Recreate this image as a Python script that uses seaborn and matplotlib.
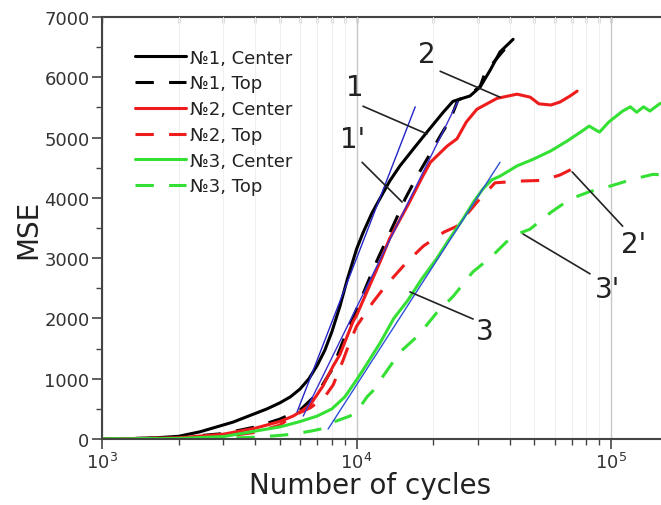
import matplotlib
matplotlib.use("Agg")
import matplotlib.pyplot as plt
import numpy as np
import pandas as pd
import seaborn as sns
from matplotlib.ticker import LogLocator, MultipleLocator, NullFormatter

# --- measured MSE vs number of cycles -------------------------------------
n1_center_x = [1000, 1500, 2000, 2430, 3270, 4450, 5000, 5500, 6000, 6500, 7000,
               7500, 8000, 8600, 9200, 10000, 10600, 11500, 12400, 13500, 14800,
               17000, 18900, 21900, 23900, 26000, 27900, 30600, 33500, 36600, 41200]
n1_center_y = [0, 10, 45, 120, 280, 500, 600, 700, 830, 1000, 1220,
               1470, 1780, 2200, 2650, 3150, 3420, 3750, 4000, 4280, 4530,
               4850, 5090, 5420, 5600, 5650, 5690, 5840, 6120, 6420, 6630]

n1_top_x = [1000, 2000, 3000, 4000, 5000, 6000, 7000, 8000, 9000, 10000, 12000,
            14500, 15500, 17400, 18900, 21300, 23400, 25000, 28000, 30600, 32000,
            37000, 41000]
n1_top_y = [0, 25, 90, 200, 330, 480, 750, 1150, 1700, 2150, 2950,
            3700, 3980, 4380, 4640, 5025, 5310, 5620, 5720, 5850, 6080,
            6400, 6620]

n2_center_x = [1000, 2000, 3000, 4000, 5000, 5630, 6000, 6560, 7380, 8090, 8600,
               9690, 10000, 12400, 13500, 16000, 18200, 19500, 22700, 24800, 27000,
               29700, 33500, 35600, 42700, 48100, 52000, 58000, 63000, 69000, 73500]
n2_center_y = [0, 20, 80, 180, 290, 380, 450, 560, 880, 1210, 1400,
               1950, 2050, 2950, 3330, 3900, 4360, 4590, 4860, 4980, 5260,
               5470, 5590, 5650, 5720, 5670, 5560, 5540, 5590, 5690, 5770]

n2_top_x = [1000, 2000, 3000, 4000, 5000, 5600, 6600, 7500, 8100, 8800, 9400,
            10000, 11600, 13000, 15800, 18300, 22000, 24800, 30000, 35000, 45000,
            54000, 63000, 72000]
n2_top_y = [0, 10, 40, 110, 230, 380, 520, 700, 900, 1280, 1600,
            1870, 2270, 2540, 2940, 3200, 3430, 3530, 3950, 4250, 4280,
            4290, 4380, 4500]

n3_center_x = [1000, 2000, 3000, 4450, 5000, 6000, 7000, 8000, 9000, 10000, 11000,
               12400, 14000, 15900, 18000, 20700, 23000, 26200, 29000, 31400, 34000,
               36600, 42700, 49400, 58000, 67000, 77000, 82000, 90000, 98000, 105000,
               111000, 119000, 126000, 134000, 142000, 155000, 160000]
n3_center_y = [0, 10, 40, 165, 200, 290, 380, 500, 700, 980, 1250,
               1600, 2000, 2300, 2650, 3000, 3300, 3650, 3950, 4150, 4300,
               4360, 4530, 4640, 4780, 4940, 5110, 5190, 5090, 5260, 5360,
               5440, 5510, 5420, 5510, 5440, 5560, 5580]

n3_top_x = [1000, 3000, 4000, 5000, 5600, 6600, 7500, 8100, 9400, 10000, 11000,
            11600, 12700, 14800, 17400, 20700, 24000, 28600, 34000, 41000, 48000,
            58000, 69000, 82000, 100000, 122000, 146000, 160000]
n3_top_y = [0, 10, 30, 60, 80, 130, 180, 280, 380, 450, 700,
            800, 1040, 1440, 1710, 2100, 2370, 2770, 3030, 3370, 3480,
            3760, 3980, 4100, 4200, 4310, 4390, 4380]

series_names = ["№1, Center", "№1, Top", "№2, Center", "№2, Top", "№3, Center", "№3, Top"]
series_x = [n1_center_x, n1_top_x, n2_center_x, n2_top_x, n3_center_x, n3_top_x]
series_y = [n1_center_y, n1_top_y, n2_center_y, n2_top_y, n3_center_y, n3_top_y]

# linear fits of the steep part (straight in log-x)
fit_names = ["1", "1'", "3"]
fit_x = [[5840, 17000], [6170, 25000], [7730, 36600]]
fit_y = [[450, 5510], [380, 5600], [165, 4590]]

# --- tidy frames ----------------------------------------------------------
curves = pd.concat(
    [pd.DataFrame({"cycles": x, "mse": y, "series": name})
     for name, x, y in zip(series_names, series_x, series_y)],
    ignore_index=True,
)
fits = pd.concat(
    [pd.DataFrame({"cycles": x, "mse": y, "fit": name})
     for name, x, y in zip(fit_names, fit_x, fit_y)],
    ignore_index=True,
)

palette = {
    "№1, Center": "#000000", "№1, Top": "#000000",
    "№2, Center": "#ee1c1c", "№2, Top": "#ee1c1c",
    "№3, Center": "#35e035", "№3, Top": "#35e035",
}
dash_map = {
    "№1, Center": "", "№1, Top": (6, 5),
    "№2, Center": "", "№2, Top": (6, 5),
    "№3, Center": "", "№3, Top": (6, 5),
}

sns.set_style("white")
plt.rcParams["font.family"] = ["DejaVu Sans"]

fig = plt.figure(figsize=(6.61, 5.06), dpi=100)
ax = fig.add_axes([102 / 661, 66 / 506, 559 / 661, 422 / 506])

sns.lineplot(data=curves, x="cycles", y="mse", hue="series", style="series",
             palette=palette, dashes=dash_map, hue_order=series_names,
             style_order=series_names, linewidth=2.2, sort=False,
             estimator=None, ax=ax)
sns.lineplot(data=fits, x="cycles", y="mse", hue="fit",
             palette=["#2424c8", "#3a2fd0", "#2f4fd8"], linewidth=1.0,
             estimator=None, legend=False, ax=ax)

ax.set_xscale("log")
ax.set_xlim(1000, 1.57e5)
ax.set_ylim(0, 7000)

# ticks
ax.yaxis.set_major_locator(MultipleLocator(1000))
ax.yaxis.set_minor_locator(MultipleLocator(500))
ax.xaxis.set_major_locator(LogLocator(base=10))
ax.xaxis.set_minor_locator(LogLocator(base=10, subs=np.arange(2, 10)))
ax.xaxis.set_minor_formatter(NullFormatter())
ax.tick_params(axis="both", which="major", direction="out", length=7, width=1.2,
               color="#444444", labelsize=13, labelcolor="#333333", pad=2)
ax.tick_params(axis="both", which="minor", direction="out", length=4, width=1.0,
               color="#444444")
ax.tick_params(left=True, bottom=True, which="both")

top = ax.secondary_xaxis("top")
top.xaxis.set_minor_locator(LogLocator(base=10, subs=np.arange(2, 10)))
top.xaxis.set_major_locator(LogLocator(base=10))
top.tick_params(which="both", direction="in", length=4, width=1.0, color="#555555",
                labeltop=False)
top.xaxis.set_major_formatter(NullFormatter())
top.xaxis.set_minor_formatter(NullFormatter())
top.spines["top"].set_color("#444444")
top.spines["top"].set_linewidth(1.5)

# vertical grid
ax.grid(True, which="major", axis="x", color="#c8c8c8", linewidth=1.0)
ax.grid(True, which="minor", axis="x", color="#f0f0f0", linewidth=0.8)
ax.grid(False, axis="y")

for side in ("left", "bottom"):
    ax.spines[side].set_color("#444444")
    ax.spines[side].set_linewidth(1.5)
ax.spines["right"].set_visible(False)
ax.spines["top"].set_visible(False)

ax.set_xlabel("Number of cycles", fontsize=20, color="#222222")
ax.set_ylabel("MSE", fontsize=20, color="#222222")
ax.xaxis.set_label_coords(0.48, -0.075)
ax.yaxis.set_label_coords(-0.107, 0.5)

# legend
handles, labels = ax.get_legend_handles_labels()
ax.legend(handles, labels, loc="upper left", bbox_to_anchor=(0.059, 0.925),
          frameon=False, fontsize=13, handlelength=2.8, handletextpad=0.25,
          labelspacing=0.43, borderpad=0, borderaxespad=0, labelcolor="#222222")

# curve labels with leader lines
labels_spec = [
    ("1", (9860, 5840), (10600, 5520), (18900, 5060)),
    ("1'", (9680, 4975), (10510, 4590), (15100, 3930)),
    ("2", (18900, 6385), (21300, 6100), (36600, 5670)),
    ("2'", (122000, 3234), (111000, 3530), (70300, 4430)),
    ("3'", (96400, 2488), (82600, 2740), (45100, 3400)),
    ("3", (32000, 1790), (28700, 1990), (16200, 2440)),
]
for text, tpos, start, end in labels_spec:
    ax.text(tpos[0], tpos[1], text, fontsize=20, color="#222222",
            ha="center", va="center")
    ax.plot([start[0], end[0]], [start[1], end[1]], color="#222222", linewidth=1.2)

fig.savefig("out.png", dpi=100)
